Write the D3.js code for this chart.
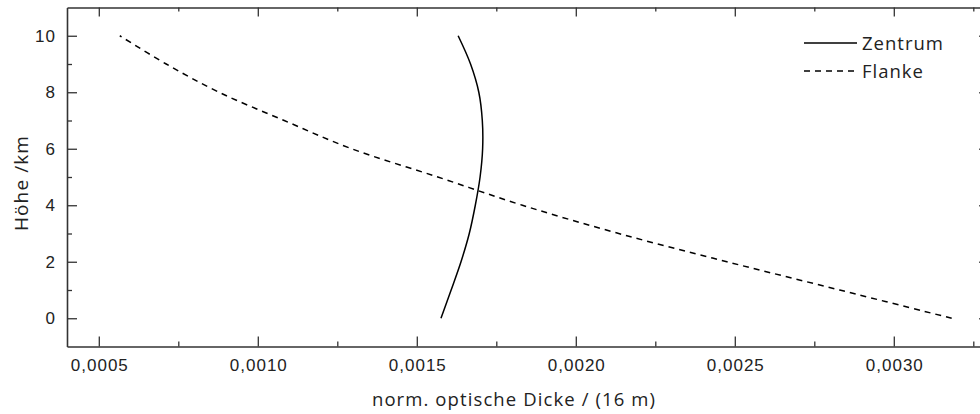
<!DOCTYPE html>
<html>
<head>
<meta charset="utf-8">
<script src="https://cdn.jsdelivr.net/npm/d3@7"></script>
<style>
  html, body { margin: 0; padding: 0; background: #fff; }
  svg { display: block; font-family: "Open Sans", "Noto Sans", sans-serif; }
</style>
</head>
<body>
<svg id="chart" width="980" height="414"></svg>
<script>
// Heights (km) and normalised optical depth per 16 m layer
const heights = [0, 1, 2, 3, 4, 5, 6, 7, 8, 9, 10];
const zentrum = [0.001576, 0.001608, 0.001639, 0.001665, 0.001684, 0.001699, 0.001707, 0.001706, 0.001695, 0.001669, 0.001630];
const flanke  = [0.003182, 0.002830, 0.002475, 0.002135, 0.001832, 0.001566, 0.001295, 0.001083, 0.000878, 0.000712, 0.000566];

const xMajorTicks = [0.0005, 0.0010, 0.0015, 0.0020, 0.0025, 0.0030];
const xMinorTicks = [0.00075, 0.00125, 0.00175, 0.00225, 0.00275, 0.00325];
const yMajorTicks = [0, 2, 4, 6, 8, 10];
const yMinorTicks = [1, 3, 5, 7, 9];

const seriesNames = ["Zentrum", "Flanke"];
const xTitle = "norm. optische Dicke / (16 m)";
const yTitle = "Höhe /km";

const svg = d3.select("#chart");
const plotLeft = 67, plotTop = 7.5, plotBottom = 346.5;

const x = d3.scaleLinear().domain([0.0004, 0.0033]).range([plotLeft, plotLeft + 0.0029 * 318000]);
const y = d3.scaleLinear().domain([-1, 11]).range([plotBottom, plotTop]);
const plotRight = x.range()[1];

const de = d3.formatLocale({ decimal: ",", thousands: ".", grouping: [3], currency: ["", " €"] });
const fmt = de.format(".4f");

const axisColor = "#333";
const textColor = "#222";

// Axes: ticks point into the plot area
function styleAxis(g) {
  g.select(".domain").attr("stroke", axisColor).attr("stroke-width", 1.6);
  g.selectAll(".tick line").attr("stroke", axisColor).attr("stroke-width", 1.3);
  g.selectAll("text").attr("fill", textColor).attr("font-size", 17).attr("letter-spacing", 1);
}
function styleMinor(g) {
  g.select(".domain").remove();
  g.selectAll("line").attr("stroke", axisColor).attr("stroke-width", 1.3);
}

// Bottom
const gx = svg.append("g").attr("transform", `translate(0,${plotBottom})`)
  .call(d3.axisBottom(x).tickValues(xMajorTicks).tickSize(-10).tickSizeOuter(0).tickPadding(12).tickFormat(fmt));
styleAxis(gx);
gx.selectAll("text").attr("dx", "0.5");
svg.append("g").attr("transform", `translate(0,${plotBottom})`)
  .call(d3.axisBottom(x).tickValues(xMinorTicks).tickSize(-5).tickSizeOuter(0).tickFormat(""))
  .call(styleMinor);

// Top
const gt = svg.append("g").attr("transform", `translate(0,${plotTop})`)
  .call(d3.axisTop(x).tickValues(xMajorTicks).tickSize(-9).tickSizeOuter(0).tickFormat(""));
styleAxis(gt);
svg.append("g").attr("transform", `translate(0,${plotTop})`)
  .call(d3.axisTop(x).tickValues(xMinorTicks).tickSize(-4).tickSizeOuter(0).tickFormat(""))
  .call(styleMinor);

// Left
const gy = svg.append("g").attr("transform", `translate(${plotLeft},0)`)
  .call(d3.axisLeft(y).tickValues(yMajorTicks).tickSize(-10).tickSizeOuter(0).tickPadding(11).tickFormat(d3.format("d")));
styleAxis(gy);
svg.append("g").attr("transform", `translate(${plotLeft},0)`)
  .call(d3.axisLeft(y).tickValues(yMinorTicks).tickSize(-5).tickSizeOuter(0).tickFormat(""))
  .call(styleMinor);

// Right
const gr = svg.append("g").attr("transform", `translate(${plotRight},0)`)
  .call(d3.axisRight(y).tickValues(yMajorTicks).tickSize(-10).tickSizeOuter(0).tickFormat(""));
styleAxis(gr);

// Axis titles
svg.append("text")
  .attr("x", 514).attr("y", 406)
  .attr("text-anchor", "middle").attr("font-size", 18.5).attr("letter-spacing", 1.1).attr("fill", textColor)
  .text(xTitle);
svg.append("text")
  .attr("transform", `translate(28,183) rotate(-90)`)
  .attr("text-anchor", "middle").attr("font-size", 19).attr("letter-spacing", 1.1).attr("fill", textColor)
  .text(yTitle);

// Curves
const line = d3.line().curve(d3.curveCatmullRom.alpha(0.5));
const zPts = heights.map((h, i) => [x(zentrum[i]), y(h)]);
const fPts = heights.map((h, i) => [x(flanke[i]), y(h)]);

svg.append("path").attr("d", line(zPts))
  .attr("fill", "none").attr("stroke", "#000").attr("stroke-width", 1.5);
svg.append("path").attr("d", line(fPts))
  .attr("fill", "none").attr("stroke", "#000").attr("stroke-width", 1.5)
  .attr("stroke-dasharray", "6,5");

// Legend
const legend = svg.append("g");
const legendRows = [
  { name: seriesNames[0], dash: null, ly: 43 },
  { name: seriesNames[1], dash: "6,5", ly: 71 }
];
legendRows.forEach(r => {
  legend.append("line")
    .attr("x1", 804).attr("x2", 857).attr("y1", r.ly).attr("y2", r.ly)
    .attr("stroke", "#000").attr("stroke-width", 1.5)
    .attr("stroke-dasharray", r.dash);
  legend.append("text")
    .attr("x", 862).attr("y", r.ly + 7)
    .attr("font-size", 18.5).attr("letter-spacing", 1).attr("fill", textColor)
    .text(r.name);
});
</script>
</body>
</html>
